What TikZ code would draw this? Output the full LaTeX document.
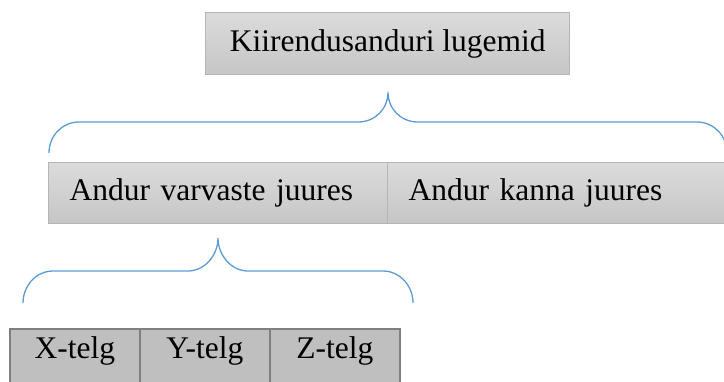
\documentclass[tikz,border=0pt]{standalone}
\usepackage{fontspec}
\setmainfont{Liberation Serif}
\begin{document}
\begin{tikzpicture}[x=1pt,y=-1pt,
  every node/.style={font=\fontsize{31.5}{36}\selectfont, text=black},
  boxshade/.style={top color=gray!28, bottom color=gray!45, draw=gray!58, line width=1.4pt},
  headbox/.style={boxshade, anchor=north west, minimum width=364, minimum height=62, inner sep=0pt},
  sensorcell/.style={boxshade, anchor=north west, align=left, inner xsep=21pt, inner ysep=0pt, minimum height=61},
  axiscell/.style={fill=gray!50, draw=black!50, line width=1.7pt,
    anchor=north west, minimum width=130, minimum height=70, inner xsep=0pt, inner ysep=8pt,
    text height=22pt, text depth=32pt},
  brace/.style={draw={rgb,255:red,91;green,155;blue,213}, line width=1.3pt}]
  \useasboundingbox (0,0) rectangle (724,381);
  \clip (0,0) rectangle (724,381);

  % top level
  \node[headbox] (top) at (205,12) {Kiirendusanduri lugemid};

  % brace joining the two sensors to the top box
  \draw[brace] (49,153) .. controls (49,136) and (62,122) .. (79,122) -- (358,122)
    .. controls (375,122) and (388,109) .. (388,92)
    .. controls (388,109) and (401,122) .. (418,122) -- (697,122)
    .. controls (714,122) and (727,136) .. (727,153);

  % sensors
  \node[sensorcell, text width=297pt] (toe) at (48,162) {Andur varvaste juures};
  \node[sensorcell, text width=299pt] (heel) at (387,162) {Andur kanna juures};

  % brace joining the axes to the toe sensor
  \draw[brace] (23,303) .. controls (23,286) and (36,271) .. (53,271) -- (188,271)
    .. controls (205,271) and (218,255) .. (218,238)
    .. controls (218,255) and (231,271) .. (248,271) -- (383,271)
    .. controls (400,271) and (413,286) .. (413,303);

  % axes
  \node[axiscell] (ax) at (9,328) {X-telg};
  \node[axiscell] (ay) at (139,328) {Y-telg};
  \node[axiscell] (az) at (269,328) {Z-telg};
\end{tikzpicture}
\end{document}
